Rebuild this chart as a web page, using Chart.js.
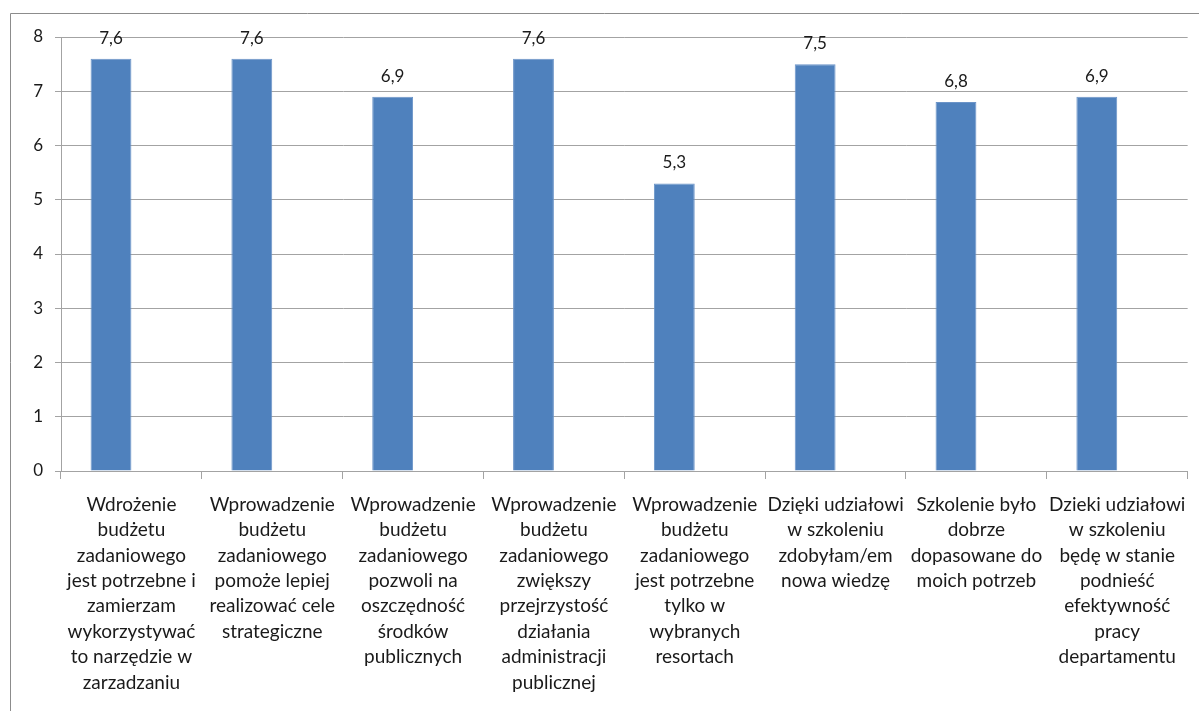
<!DOCTYPE html>
<html lang="pl">
<head>
<meta charset="utf-8">
<title>Ocena budżetu zadaniowego</title>
<script src="https://cdn.jsdelivr.net/npm/chart.js@4.4.1/dist/chart.umd.min.js"></script>
<style>
  html, body { margin: 0; padding: 0; background: #ffffff; }
  #wrap { position: relative; width: 1199px; height: 711px; }
</style>
</head>
<body>
<div id="wrap"><canvas id="chart" width="1199" height="711"></canvas></div>
<script>
// Category labels, one line per array entry
const categories = [
  ["Wdrożenie", "budżetu", "zadaniowego", "jest potrzebne i", "zamierzam", "wykorzystywać", "to narzędzie w", "zarzadzaniu"],
  ["Wprowadzenie", "budżetu", "zadaniowego", "pomoże lepiej", "realizować cele", "strategiczne"],
  ["Wprowadzenie", "budżetu", "zadaniowego", "pozwoli na", "oszczędność", "środków", "publicznych"],
  ["Wprowadzenie", "budżetu", "zadaniowego", "zwiększy", "przejrzystość", "działania", "administracji", "publicznej"],
  ["Wprowadzenie", "budżetu", "zadaniowego", "jest potrzebne", "tylko w", "wybranych", "resortach"],
  ["Dzięki udziałowi", "w szkoleniu", "zdobyłam/em", "nowa wiedzę"],
  ["Szkolenie było", "dobrze", "dopasowane do", "moich potrzeb"],
  ["Dzieki udziałowi", "w szkoleniu", "będę w stanie", "podnieść", "efektywność", "pracy", "departamentu"]
];
// Average scores
const scores = [7.6, 7.6, 6.9, 7.6, 5.3, 7.5, 6.8, 6.9];
// Second series slot of the workbook, left without values
const emptySeries = [null, null, null, null, null, null, null, null];
const yTicks = [0, 1, 2, 3, 4, 5, 6, 7, 8];

const FONT = "Lato, 'Open Sans', 'Liberation Sans', sans-serif";
const GRID = "#a3a3a3";
const TEXT = "#1a1a1a";

// Outer chart frame (left and top edges of the chart box)
const framePlugin = {
  id: "frame",
  beforeDraw(chart) {
    const ctx = chart.ctx;
    ctx.save();
    ctx.strokeStyle = "#8c8c8c";
    ctx.lineWidth = 1;
    ctx.beginPath();
    ctx.moveTo(10.5, chart.height);
    ctx.lineTo(10.5, 13.5);
    ctx.lineTo(chart.width, 13.5);
    ctx.stroke();
    ctx.restore();
  }
};

// Value labels above each bar, decimal comma
const valueLabels = {
  id: "valueLabels",
  afterDatasetsDraw(chart) {
    const ctx = chart.ctx;
    const meta = chart.getDatasetMeta(0);
    ctx.save();
    ctx.font = "17px " + FONT;
    ctx.fillStyle = TEXT;
    ctx.textAlign = "center";
    ctx.textBaseline = "alphabetic";
    meta.data.forEach((bar, i) => {
      const txt = scores[i].toFixed(1).replace(".", ",");
      ctx.fillText(txt, bar.x, bar.y - 15);
    });
    ctx.restore();
  }
};

new Chart(document.getElementById("chart"), {
  type: "bar",
  data: {
    labels: categories,
    datasets: [{
      data: scores,
      backgroundColor: "#4f81bd",
      borderColor: "#6b94c8",
      borderWidth: 1,
      barPercentage: 1,
      categoryPercentage: 0.58
    }, {
      data: emptySeries,
      backgroundColor: "#c0504d",
      barPercentage: 1,
      categoryPercentage: 0.58
    }]
  },
  options: {
    responsive: false,
    animation: false,
    layout: { padding: { top: 37, right: 10, left: 0, bottom: 0 } },
    plugins: {
      legend: { display: false },
      tooltip: { enabled: false }
    },
    scales: {
      x: {
        grid: {
          offset: true,
          drawOnChartArea: false,
          drawTicks: true,
          tickLength: 8,
          color: GRID
        },
        border: { color: GRID, width: 1 },
        ticks: {
          autoSkip: false,
          maxRotation: 0,
          minRotation: 0,
          padding: 13,
          color: TEXT,
          font: { family: FONT, size: 19, lineHeight: 1.337 }
        },
        afterFit(scale) { scale.height = 240; }
      },
      y: {
        min: 0,
        max: 8,
        afterBuildTicks(scale) { scale.ticks = yTicks.map(v => ({ value: v })); },
        grid: { color: GRID, tickLength: 6, drawTicks: true },
        border: { color: GRID, width: 1 },
        ticks: {
          padding: 12,
          color: TEXT,
          font: { family: FONT, size: 17 }
        },
        afterFit(scale) { scale.width = 61; }
      }
    }
  },
  plugins: [framePlugin, valueLabels]
});
</script>
</body>
</html>
